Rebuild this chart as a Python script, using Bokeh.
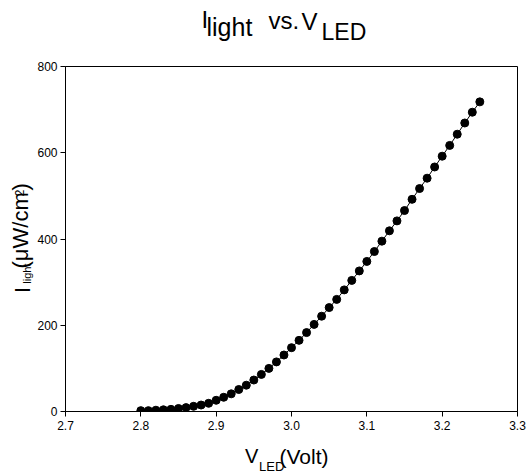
from bokeh.plotting import figure
from bokeh.layouts import column, row
from bokeh.models import FixedTicker, PrintfTickFormatter, Range1d
from bokeh.core.properties import value
from bokeh.embed import file_html
from bokeh.resources import INLINE

# ---- data ----
v_led = [2.80, 2.81, 2.82, 2.83, 2.84, 2.85, 2.86, 2.87, 2.88, 2.89,
         2.90, 2.91, 2.92, 2.93, 2.94, 2.95, 2.96, 2.97, 2.98, 2.99,
         3.00, 3.01, 3.02, 3.03, 3.04, 3.05, 3.06, 3.07, 3.08, 3.09,
         3.10, 3.11, 3.12, 3.13, 3.14, 3.15, 3.16, 3.17, 3.18, 3.19,
         3.20, 3.21, 3.22, 3.23, 3.24, 3.25]
i_light = [2, 2, 3, 4, 5, 7, 9, 12, 15, 19,
           26, 33, 41, 51, 61, 73, 86, 100, 115, 131,
           148, 165, 183, 202, 221, 241, 260, 282, 304, 326,
           348, 371, 395, 419, 442, 466, 492, 517, 541, 567,
           592, 617, 643, 669, 694, 718]
x_tick_values = [2.7, 2.8, 2.9, 3.0, 3.1, 3.2, 3.3]
y_tick_values = [0, 200, 400, 600, 800]

FONT = "Liberation Sans"
W, H = 526, 474
LW = 34            # width of the y-label panel
FRAME_L = 63       # left edge of the plotting frame on the page
FRAME_T, FRAME_B = 66, 411
BOTTOM_BORDER = 30
K = 0.3465         # distance (em) from the middle of the text box to the baseline

# advance widths (em) of Liberation Sans, used to centre the rotated pieces
ADV = {"I": 0.278, "l": 0.222, "i": 0.222, "g": 0.556, "h": 0.556, "t": 0.278,
       "(": 0.333, ")": 0.333, "\u03bc": 0.576, "W": 0.944, "/": 0.278,
       "c": 0.5, "m": 0.833, "2": 0.556}


def text_panel(left, right, top, bottom):
    """A blank figure used only to hold texts; its coordinates are page pixels."""
    f = figure(width=right - left, height=bottom - top,
               x_range=Range1d(left, right), y_range=Range1d(-bottom, -top),
               min_border=0, x_axis_location=None, y_axis_location=None,
               output_backend="svg", toolbar_location=None,
               background_fill_color="white", border_fill_color="white")
    f.grid.visible = False
    f.outline_line_color = None
    return f


def put(f, s, px, py, size):
    """Horizontal text with its baseline-left point at page pixel (px, py)."""
    f.text(x=[px], y=[-(py - K * size)], text=[s], text_font=value(FONT),
           text_font_size=value(f"{size}px"), text_color="black",
           text_baseline="middle", text_align="left")


def put_up(f, s, bx, start_y, size):
    """Text reading upwards: baseline at page x = bx, text starting at page y = start_y."""
    w = sum(ADV[c] for c in s) * size
    cx = bx - K * size
    cy = start_y - w / 2
    f.text(x=[cx], y=[-cy], text=[s], text_font=value(FONT),
           text_font_size=value(f"{size}px"), text_color="black",
           text_baseline="middle", text_align="center",
           angle=90, angle_units="deg")
    return start_y - w


# ---- title panel ----
TOP_H = 58
T = text_panel(0, W, 0, TOP_H)
put(T, "I", 201, 27.5, 24)
put(T, "light", 206, 35, 25)
put(T, "vs.", 268, 28.5, 24)
put(T, "V", 301, 29, 24)
put(T, "LED", 321, 39.5, 23)

# ---- y label panel ----
MID_B = FRAME_B + BOTTOM_BORDER
L = text_panel(0, LW, TOP_H, MID_B)
put_up(L, "I", 29.5, 309, 22)
put_up(L, "light", 30, 298, 11)
y_end = put_up(L, "(\u03bcW/cm", 28, 278, 22)
y_end = put_up(L, "2", 23, y_end, 12)
put_up(L, ")", 28, y_end, 22)

# ---- main plot ----
M = figure(frame_width=452, frame_height=FRAME_B - FRAME_T,
           min_border_left=FRAME_L - LW, min_border_right=W - FRAME_L - 452,
           min_border_top=FRAME_T - TOP_H, min_border_bottom=BOTTOM_BORDER,
           x_range=Range1d(2.7, 3.3), y_range=Range1d(0, 800),
           output_backend="svg", toolbar_location=None,
           background_fill_color="white", border_fill_color="white")
M.grid.visible = False
M.outline_line_color = "black"
M.outline_line_width = 1
M.outline_line_alpha = 1

for ax in (M.xaxis[0], M.yaxis[0]):
    ax.axis_line_color = "black"
    ax.major_tick_line_color = "black"
    ax.major_tick_in = 0
    ax.major_tick_out = 5
    ax.minor_tick_line_color = None
    ax.major_label_text_font = FONT
    ax.major_label_text_font_size = "12px"
    ax.major_label_text_color = "black"

M.xaxis.ticker = FixedTicker(ticks=x_tick_values)
M.xaxis.formatter = PrintfTickFormatter(format="%.1f")
M.xaxis.major_label_standoff = 4
M.yaxis.ticker = FixedTicker(ticks=y_tick_values)
M.yaxis.major_label_standoff = 3

M.line(v_led, i_light, line_color="black", line_width=1)
M.scatter(v_led, i_light, size=8, marker="circle",
          fill_color="black", line_color="black")

# ---- x label panel ----
B = text_panel(0, W, MID_B, H)
put(B, "V", 244.5, 462.5, 20)
put(B, "LED", 258.5, 470.5, 13)
put(B, "(Volt)", 279, 463, 21)

layout = column(T, row(L, M), B)

open("out.html", "w").write(file_html(layout, INLINE))
